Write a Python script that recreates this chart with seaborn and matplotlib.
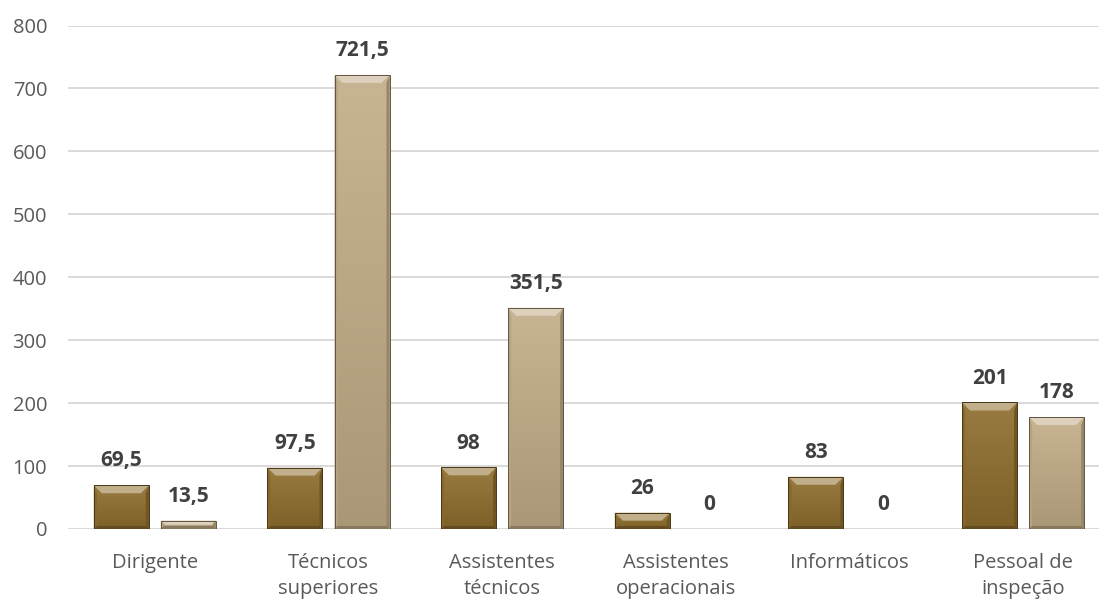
import matplotlib
matplotlib.use("Agg")
import matplotlib.pyplot as plt
from matplotlib.patches import Polygon
from matplotlib.colors import to_rgb, LinearSegmentedColormap
import numpy as np
import pandas as pd
import seaborn as sns

# Categories (x axis) and the two series of values
categorias = ["Dirigente", "Técnicos\nsuperiores", "Assistentes\ntécnicos",
              "Assistentes\noperacionais", "Informáticos", "Pessoal de\ninspeção"]
serie_1 = [69.5, 97.5, 98, 26, 83, 201]
serie_2 = [13.5, 721.5, 351.5, 0, 0, 178]
series = ["Série 1", "Série 2"]
y_ticks = [0, 100, 200, 300, 400, 500, 600, 700, 800]

cores = {"Série 1": "#8E6D2C", "Série 2": "#C2AC87"}

df = pd.DataFrame({
    "categoria": categorias * 2,
    "serie": [series[0]] * len(categorias) + [series[1]] * len(categorias),
    "valor": serie_1 + serie_2,
})

sns.set_theme(style="white")
plt.rcParams["font.family"] = ["Open Sans", "DejaVu Sans"]

W, H = 1099, 601
fig = plt.figure(figsize=(W / 100, H / 100), dpi=100)
ax_left, ax_right = 68, 1110
ax_bottom, ax_top = 529, 25.5
ax = fig.add_axes([ax_left / W, (H - ax_bottom) / H,
                   (ax_right - ax_left) / W, (ax_bottom - ax_top) / H])

sns.barplot(data=df, x="categoria", y="valor", hue="serie", palette=cores,
            width=0.772, gap=0.18, legend=False, ax=ax, saturation=1,
            edgecolor="none", linewidth=0, zorder=3)

ax.set_xlim(-0.5, len(categorias) - 0.5)
ax.set_ylim(0, 800)
ax.set_yticks(y_ticks)
ax.set_yticklabels([str(t) for t in y_ticks])
ax.set_xlabel("")
ax.set_ylabel("")

for s in ["top", "right", "left", "bottom"]:
    ax.spines[s].set_visible(False)
ax.yaxis.grid(True, color="#D9D9D9", linewidth=1.4, zorder=0)
ax.xaxis.grid(False)
ax.set_axisbelow(True)
ax.tick_params(axis="both", length=0, colors="#595959", labelsize=14.5)
ax.tick_params(axis="y", pad=15)
ax.tick_params(axis="x", pad=17)
for lbl in ax.get_xticklabels():
    lbl.set_linespacing(1.4)
    lbl.set_color("#595959")

# pixel -> data scale, used for the bevel widths
px_x = len(categorias) / (ax_right - ax_left)
px_y = 800 / (ax_bottom - ax_top)


def shade(color, f):
    r, g, b = to_rgb(color)
    if f >= 0:
        return (r + (1 - r) * f, g + (1 - g) * f, b + (1 - b) * f)
    return (r * (1 + f), g * (1 + f), b * (1 + f))


bars = [p for p in ax.patches if p.get_height() > 0]
for p in bars:
    x0, y0 = p.get_x(), p.get_y()
    w, h = p.get_width(), p.get_height()
    base = p.get_facecolor()[:3]
    x1, y1 = x0 + w, y0 + h

    # soft vertical gradient over the bar body
    cmap = LinearSegmentedColormap.from_list(
        "g", [shade(base, -0.12), shade(base, 0.10)])
    grad = np.linspace(0, 1, 64).reshape(-1, 1)
    im = ax.imshow(grad, extent=[x0, x1, y0, y1], origin="lower",
                   aspect="auto", cmap=cmap, zorder=3.5, interpolation="bicubic")
    im.set_clip_path(p)

    h_px = h / px_y
    bt = min(8, h_px / 2)        # top bevel
    bs = min(3, h_px / 2)        # side / bottom bevel
    tx, ty = bt * px_x, bt * px_y
    sx, sy = bs * px_x, bs * px_y
    top = [(x0, y1), (x1, y1), (x1 - tx, y1 - ty), (x0 + tx, y1 - ty)]
    left = [(x0, y0), (x0, y1), (x0 + sx, y1 - ty), (x0 + sx, y0 + sy)]
    right = [(x1, y0), (x1, y1), (x1 - sx, y1 - ty), (x1 - sx, y0 + sy)]
    bottom = [(x0, y0), (x1, y0), (x1 - sx, y0 + sy), (x0 + sx, y0 + sy)]
    for poly, f in [(top, 0.45), (left, -0.05), (right, -0.22),
                    (bottom, -0.30)]:
        ax.add_patch(Polygon(poly, closed=True, facecolor=shade(base, f),
                             edgecolor="none", zorder=4))
    ax.add_patch(plt.Rectangle((x0, y0), w, h, facecolor="none",
                               edgecolor=shade(base, -0.5), linewidth=0.7,
                               zorder=5))

# Value labels above each bar
for container in ax.containers:
    labels = [f"{v:g}".replace(".", ",") for v in container.datavalues]
    for rect, txt in zip(container, labels):
        cx = rect.get_x() + rect.get_width() / 2
        ax.annotate(txt, (cx, rect.get_height()), xytext=(0, 17.5),
                    textcoords="offset points", ha="center", va="center",
                    fontsize=15, fontweight="bold", color="#404040", zorder=6)

fig.savefig("out.png", dpi=100, facecolor="white")
